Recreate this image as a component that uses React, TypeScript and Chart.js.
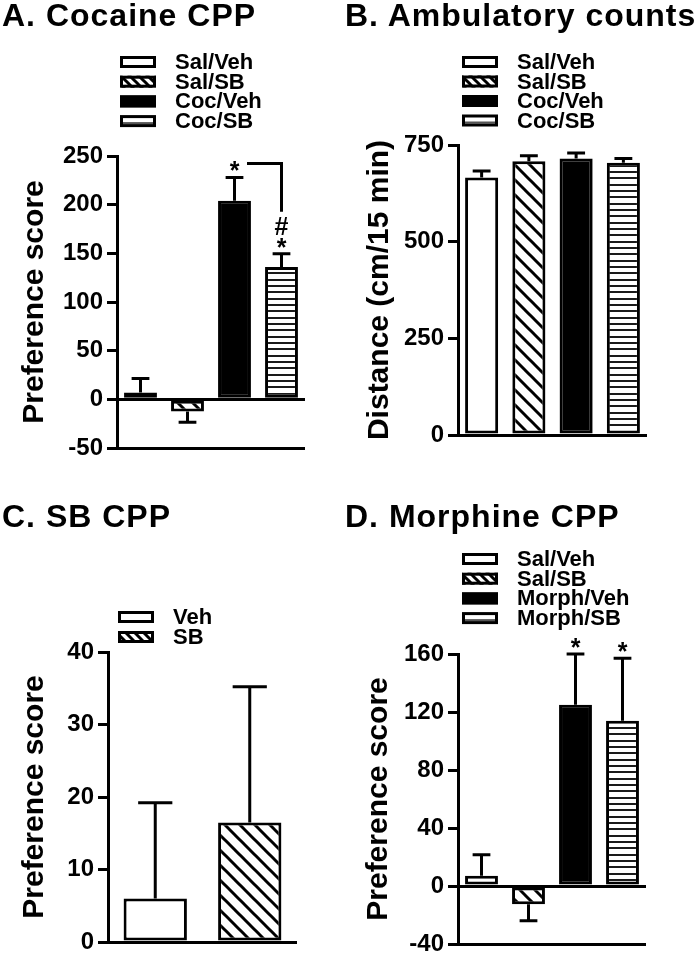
import React, { useEffect, useRef } from 'react';
import { Chart, registerables } from 'chart.js';

Chart.register(...registerables);

const FONT = '"Liberation Sans", Arial, Helvetica, sans-serif';

// ---------------- Data ----------------
// A. Cocaine CPP
const cocaineGroups = ['Sal/Veh', 'Sal/SB', 'Coc/Veh', 'Coc/SB'];
const cocaineScore = [7, -12.5, 204, 136];
const cocaineSem = [14.5, 11, 24, 13.5];
const cocaineTicks = [-50, 0, 50, 100, 150, 200, 250];
const cocaineMarks = ['', '', '*', '#*'];

// B. Ambulatory counts
const ambulatoryGroups = ['Sal/Veh', 'Sal/SB', 'Coc/Veh', 'Coc/SB'];
const ambulatoryDistance = [666, 708, 715, 704];
const ambulatorySem = [17, 14, 14, 11];
const ambulatoryTicks = [0, 250, 500, 750];

// C. SB CPP
const sbGroups = ['Veh', 'SB'];
const sbScore = [6, 16.5];
const sbSem = [13.2, 18.7];
const sbTicks = [0, 10, 20, 30, 40];

// D. Morphine CPP
const morphineGroups = ['Sal/Veh', 'Sal/SB', 'Morph/Veh', 'Morph/SB'];
const morphineScore = [7, -12.5, 125, 114];
const morphineSem = [14.5, 11.5, 35, 43];
const morphineTicks = [-40, 0, 40, 80, 120, 160];
const morphineMarks = ['', '', '*', '*'];

const fourFills = ['white', 'diag', 'black', 'hstripe'];
const twoFills = ['white', 'diag'];

type Area = { left: number; right: number; top: number; bottom: number };
type PanelCfg = {
  left: number; top: number; width: number; height: number;
  area: Area;
  labels: string[]; values: number[]; errors: number[]; ticks: number[];
  fills: string[];
  yTitle: string; yTitleCenter: number;
  barPct: number;
  legend: { x: number; y: number; gap: number };
  marks?: string[];
  bracket?: [number, number];
};

function makeFills() {
  const mk = (w: number, h: number, draw: (g: CanvasRenderingContext2D) => void) => {
    const c = document.createElement('canvas');
    c.width = w; c.height = h;
    const g = c.getContext('2d')!;
    g.fillStyle = '#fff';
    g.fillRect(0, 0, w, h);
    draw(g);
    return g.createPattern(c, 'repeat')!;
  };
  const diag = (p: number, lw: number) => mk(p, p, (g) => {
    g.strokeStyle = '#000';
    g.lineWidth = lw;
    for (let k = -1; k <= 1; k++) {
      g.beginPath();
      g.moveTo(k * p - p, -p);
      g.lineTo(k * p + 2 * p, 2 * p);
      g.stroke();
    }
  });
  const hstripe = mk(4, 19, (g) => {
    g.fillStyle = '#1a1a1a';
    [0, 6, 13].forEach((y) => g.fillRect(0, y, 4, 2));
  });
  return {
    bar: { white: '#ffffff', black: '#000000', diag: diag(15, 3), hstripe } as Record<string, any>,
    legend: { white: '#ffffff', black: '#000000', diag: diag(9, 3), hstripe: '#ffffff' } as Record<string, any>,
  };
}

function glyphBaseline(ctx: CanvasRenderingContext2D, ch: string, cy: number) {
  const m = ctx.measureText(ch);
  return cy + (m.actualBoundingBoxAscent - m.actualBoundingBoxDescent) / 2;
}

function Panel({ cfg }: { cfg: PanelCfg }) {
  const ref = useRef<HTMLCanvasElement>(null);
  useEffect(() => {
    const canvas = ref.current!;
    const fills = makeFills();
    const { area, ticks } = cfg;
    const minTick = ticks[0];

    const extras = {
      id: 'extras',
      afterDatasetsDraw(chart: any) {
        const ctx: CanvasRenderingContext2D = chart.ctx;
        const y = chart.scales.y;
        const bars = chart.getDatasetMeta(0).data;
        const errTop: number[] = [];
        ctx.save();
        ctx.strokeStyle = '#000';
        ctx.lineWidth = 3;
        ctx.lineCap = 'butt';
        bars.forEach((el: any, i: number) => {
          const v = cfg.values[i];
          const e = cfg.errors[i];
          const end = y.getPixelForValue(v >= 0 ? v + e : v - e);
          errTop.push(end);
          const half = el.width * 0.27;
          ctx.beginPath();
          ctx.moveTo(el.x, el.y);
          ctx.lineTo(el.x, end);
          ctx.moveTo(el.x - half, end);
          ctx.lineTo(el.x + half, end);
          ctx.stroke();
        });
        // significance marks
        ctx.fillStyle = '#000';
        ctx.font = `bold 25px ${FONT}`;
        ctx.textAlign = 'center';
        ctx.textBaseline = 'alphabetic';
        const markCenter = (i: number, fromBottom: number) => errTop[i] - 11 - fromBottom * 17;
        (cfg.marks || []).forEach((s, i) => {
          const chars = s.split('');
          chars.forEach((ch, k) => {
            const fromBottom = chars.length - 1 - k;
            const cy = markCenter(i, fromBottom);
            ctx.fillText(ch, bars[i].x, glyphBaseline(ctx, ch, cy));
          });
        });
        if (cfg.bracket) {
          const [a, b] = cfg.bracket;
          const nb = (cfg.marks?.[b] || '').length;
          const yLine = markCenter(a, 0) - 3;
          const yEnd = markCenter(b, Math.max(nb - 1, 0)) - 14;
          ctx.beginPath();
          ctx.moveTo(bars[a].x + 12.5, yLine);
          ctx.lineTo(bars[b].x, yLine);
          ctx.lineTo(bars[b].x, yEnd);
          ctx.stroke();
        }
        ctx.restore();
      },
      afterDraw(chart: any) {
        const ctx: CanvasRenderingContext2D = chart.ctx;
        const { x, y: y0, gap } = cfg.legend;
        const bw = 36, bh = 12;
        ctx.save();
        cfg.labels.forEach((lab, i) => {
          const cy = y0 + i * gap;
          ctx.fillStyle = fills.legend[cfg.fills[i]];
          ctx.fillRect(x, cy - bh / 2, bw, bh);
          if (cfg.fills[i] === 'hstripe') {
            ctx.fillStyle = '#555';
            ctx.fillRect(x, cy + 1, bw, 2);
          }
          ctx.strokeStyle = '#000';
          ctx.lineWidth = 3;
          ctx.strokeRect(x + 1.5, cy - bh / 2 + 1.5, bw - 3, bh - 3);
          ctx.fillStyle = '#000';
          ctx.font = `bold 22px ${FONT}`;
          ctx.textAlign = 'left';
          ctx.textBaseline = 'middle';
          ctx.fillText(lab, x + bw + 19, cy + 1);
        });
        ctx.restore();
      },
    };

    const chart = new Chart(canvas, {
      type: 'bar',
      data: {
        labels: cfg.labels,
        datasets: [{
          data: cfg.values,
          backgroundColor: cfg.fills.map((f) => fills.bar[f]),
          borderColor: '#000',
          borderWidth: 3,
          borderSkipped: false,
          categoryPercentage: 1,
          barPercentage: cfg.barPct,
        }],
      },
      options: {
        responsive: false,
        animation: false,
        devicePixelRatio: 1,
        events: [],
        layout: {
          padding: { left: 0, top: area.top, right: cfg.width - area.right, bottom: cfg.height - area.bottom },
        },
        plugins: { legend: { display: false }, title: { display: false }, tooltip: { enabled: false } },
        scales: {
          x: { type: 'category', display: false, offset: true },
          y: {
            type: 'linear',
            z: 1,
            min: ticks[0],
            max: ticks[ticks.length - 1],
            afterBuildTicks: (s: any) => { s.ticks = ticks.map((v) => ({ value: v })); },
            afterFit: (s: any) => { s.width = area.left; },
            border: { display: true, color: '#000', width: 3 },
            grid: {
              display: true,
              drawOnChartArea: true,
              drawTicks: true,
              lineWidth: 3,
              tickLength: 10,
              tickWidth: 3,
              tickColor: '#000',
              color: (c: any) => (c.tick && (c.tick.value === 0 || c.tick.value === minTick) ? '#000' : 'rgba(0,0,0,0)'),
            },
            ticks: {
              color: '#000',
              padding: 4,
              font: { family: FONT, size: 24, weight: 'bold' },
            },
            title: {
              display: true,
              text: cfg.yTitle,
              color: '#000',
              font: { family: FONT, size: 30, weight: 'bold', lineHeight: 1.2 },
              padding: { top: cfg.yTitleCenter - 18, bottom: 0 },
            },
          },
        },
      },
      plugins: [extras],
    } as any);
    return () => chart.destroy();
  }, []);
  return (
    <canvas
      ref={ref}
      width={cfg.width}
      height={cfg.height}
      style={{ position: 'absolute', left: cfg.left, top: cfg.top, width: cfg.width, height: cfg.height }}
    />
  );
}

const panels: PanelCfg[] = [
  {
    left: 0, top: 0, width: 350, height: 480,
    area: { left: 117, right: 305, top: 156, bottom: 448 },
    labels: cocaineGroups, values: cocaineScore, errors: cocaineSem, ticks: cocaineTicks,
    fills: fourFills, yTitle: 'Preference score', yTitleCenter: 35, barPct: 0.7,
    legend: { x: 120, y: 62, gap: 19.7 },
    marks: cocaineMarks, bracket: [2, 3],
  },
  {
    left: 350, top: 0, width: 350, height: 480,
    area: { left: 108, right: 297, top: 145, bottom: 435 },
    labels: ambulatoryGroups, values: ambulatoryDistance, errors: ambulatorySem, ticks: ambulatoryTicks,
    fills: fourFills, yTitle: 'Distance (cm/15 min)', yTitleCenter: 30, barPct: 0.7,
    legend: { x: 112, y: 62, gap: 19.5 },
  },
  {
    left: 0, top: 480, width: 350, height: 500,
    area: { left: 108, right: 297, top: 172, bottom: 462 },
    labels: sbGroups, values: sbScore, errors: sbSem, ticks: sbTicks,
    fills: twoFills, yTitle: 'Preference score', yTitleCenter: 35, barPct: 0.67,
    legend: { x: 118, y: 137, gap: 20 },
  },
  {
    left: 350, top: 480, width: 350, height: 500,
    area: { left: 108, right: 296, top: 174, bottom: 464 },
    labels: morphineGroups, values: morphineScore, errors: morphineSem, ticks: morphineTicks,
    fills: fourFills, yTitle: 'Preference score', yTitleCenter: 28.5, barPct: 0.7,
    legend: { x: 112, y: 79, gap: 19.7 },
    marks: morphineMarks,
  },
];

const titles = [
  { text: 'A. Cocaine CPP', left: 2, top: -1 },
  { text: 'B. Ambulatory counts', left: 345, top: -1 },
  { text: 'C. SB CPP', left: 2, top: 500 },
  { text: 'D. Morphine CPP', left: 345, top: 500 },
];

export default function App() {
  return (
    <div style={{ position: 'absolute', left: 0, top: 0, width: 700, height: 955, background: '#fff', overflow: 'hidden' }}>
      {panels.map((p, i) => <Panel key={i} cfg={p} />)}
      {titles.map((t, i) => (
        <div
          key={'t' + i}
          style={{
            position: 'absolute', left: t.left, top: t.top, font: `bold 32px ${FONT}`, lineHeight: '33px',
            letterSpacing: '1px', whiteSpace: 'nowrap', color: '#000',
          }}
        >
          {t.text}
        </div>
      ))}
    </div>
  );
}
